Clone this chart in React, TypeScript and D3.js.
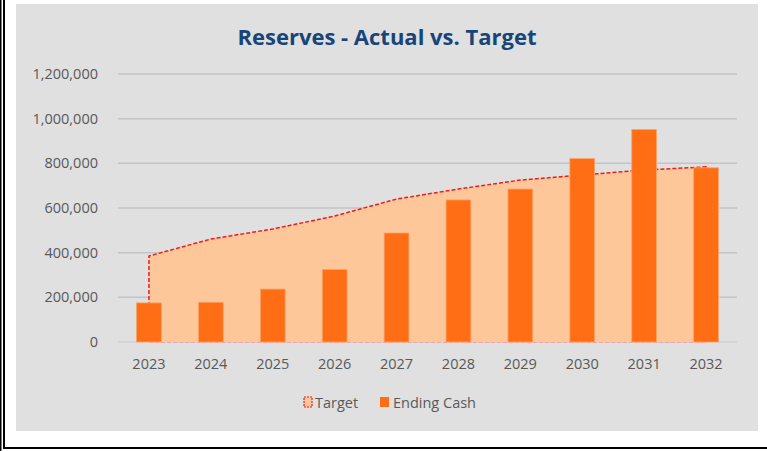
import React, { useRef, useEffect } from 'react';
import * as d3 from 'd3';

const years = ['2023', '2024', '2025', '2026', '2027', '2028', '2029', '2030', '2031', '2032'];
const target = [385000, 461000, 506000, 564000, 640000, 685000, 725000, 748000, 770000, 784000];
const endingCash = [175000, 178000, 237000, 325000, 488000, 636000, 685000, 821000, 951000, 780000];
const yTicks = [0, 200000, 400000, 600000, 800000, 1000000, 1200000];

const W = 767;
const H = 451;
const FONT = '"Open Sans", "Noto Sans", sans-serif';

const App: React.FC = () => {
  const svgRef = useRef<SVGSVGElement>(null);

  useEffect(() => {
    if (!svgRef.current) return;
    const svg = d3.select(svgRef.current);
    svg.selectAll('*').remove();

    // page frame
    svg.append('rect').attr('width', W).attr('height', H).attr('fill', '#fff');
    svg.append('rect').attr('x', 0).attr('y', 0).attr('width', 1.5).attr('height', H).attr('fill', '#000');
    svg.append('rect').attr('x', 3).attr('y', 0).attr('width', 2).attr('height', 449).attr('fill', '#000');
    svg.append('rect').attr('x', 3).attr('y', 447).attr('width', W - 3).attr('height', 2).attr('fill', '#000');

    // chart panel
    svg.append('rect')
      .attr('x', 16).attr('y', 4)
      .attr('width', 742).attr('height', 427)
      .attr('fill', '#e0e0e0');

    const x = d3.scaleBand<string>()
      .domain(years)
      .range([118, 737])
      .paddingInner(0.6)
      .paddingOuter(0.3);
    const y = d3.scaleLinear().domain([0, 1200000]).range([342, 74]);
    const cx = (d: string) => (x(d) as number) + x.bandwidth() / 2;

    // title
    svg.append('text')
      .attr('x', 387).attr('y', 45)
      .attr('text-anchor', 'middle')
      .attr('fill', '#17457a')
      .style('font-family', FONT)
      .style('font-size', '22px')
      .style('font-weight', 'bold')
      .text('Reserves - Actual vs. Target');

    // gridlines
    svg.append('g')
      .selectAll('line')
      .data(yTicks)
      .join('line')
      .attr('x1', 118).attr('x2', 737)
      .attr('y1', d => y(d)).attr('y2', d => y(d))
      .attr('stroke', d => (d === 0 ? '#d2d2d2' : '#c4c4c4'))
      .attr('stroke-width', 1.5);

    // y labels
    svg.append('g')
      .selectAll('text')
      .data(yTicks)
      .join('text')
      .attr('x', 98)
      .attr('y', d => y(d) + 5)
      .attr('text-anchor', 'end')
      .attr('fill', '#595959')
      .style('font-family', FONT)
      .style('font-size', '14.5px')
      .text(d => d3.format(',')(d));

    // x labels
    svg.append('g')
      .selectAll('text')
      .data(years)
      .join('text')
      .attr('x', d => cx(d))
      .attr('y', 369)
      .attr('text-anchor', 'middle')
      .attr('fill', '#595959')
      .style('font-family', FONT)
      .style('font-size', '14.5px')
      .text(d => d);

    // target area
    const pts = years.map((d, i) => ({ x: cx(d), y: y(target[i]) }));
    const area = d3.area<{ x: number; y: number }>()
      .x(d => d.x)
      .y0(y(0))
      .y1(d => d.y);
    svg.append('path')
      .datum(pts)
      .attr('d', area)
      .attr('fill', '#fdc79a');

    const outline = d3.line<{ x: number; y: number }>().x(d => d.x).y(d => d.y);
    const edge = [{ x: pts[0].x, y: y(0) }, ...pts, { x: pts[pts.length - 1].x, y: y(0) }];
    svg.append('path')
      .datum(edge)
      .attr('d', outline)
      .attr('fill', 'none')
      .attr('stroke', '#ee1c1c')
      .attr('stroke-width', 1.5)
      .attr('stroke-dasharray', '4,2');
    svg.append('line')
      .attr('x1', pts[0].x).attr('x2', pts[pts.length - 1].x)
      .attr('y1', y(0) + 0.5).attr('y2', y(0) + 0.5)
      .attr('stroke', '#f2a5a5')
      .attr('stroke-width', 1.2)
      .attr('stroke-dasharray', '4,2');

    // bars
    svg.append('g')
      .selectAll('rect')
      .data(years)
      .join('rect')
      .attr('x', d => x(d) as number)
      .attr('y', (d, i) => y(endingCash[i]))
      .attr('width', x.bandwidth())
      .attr('height', (d, i) => y(0) - y(endingCash[i]))
      .attr('fill', '#ff6d14')
      .attr('stroke', '#f9a36a')
      .attr('stroke-width', 0.8);

    // legend
    const lg = svg.append('g');
    lg.append('rect')
      .attr('x', 304).attr('y', 397)
      .attr('width', 8).attr('height', 10)
      .attr('fill', '#fdc79a')
      .attr('stroke', '#ee1c1c')
      .attr('stroke-width', 1.2)
      .attr('stroke-dasharray', '2,1');
    lg.append('text')
      .attr('x', 315).attr('y', 408)
      .attr('fill', '#595959')
      .style('font-family', FONT)
      .style('font-size', '14.5px')
      .text('Target');
    lg.append('rect')
      .attr('x', 380).attr('y', 397)
      .attr('width', 9).attr('height', 10)
      .attr('fill', '#ff6d14');
    lg.append('text')
      .attr('x', 393).attr('y', 408)
      .attr('fill', '#595959')
      .style('font-family', FONT)
      .style('font-size', '14.5px')
      .text('Ending Cash');
  }, []);

  return (
    <div style={{ position: 'absolute', left: 0, top: 0, width: W, height: H }}>
      <svg ref={svgRef} width={W} height={H}></svg>
    </div>
  );
};

export default App;
